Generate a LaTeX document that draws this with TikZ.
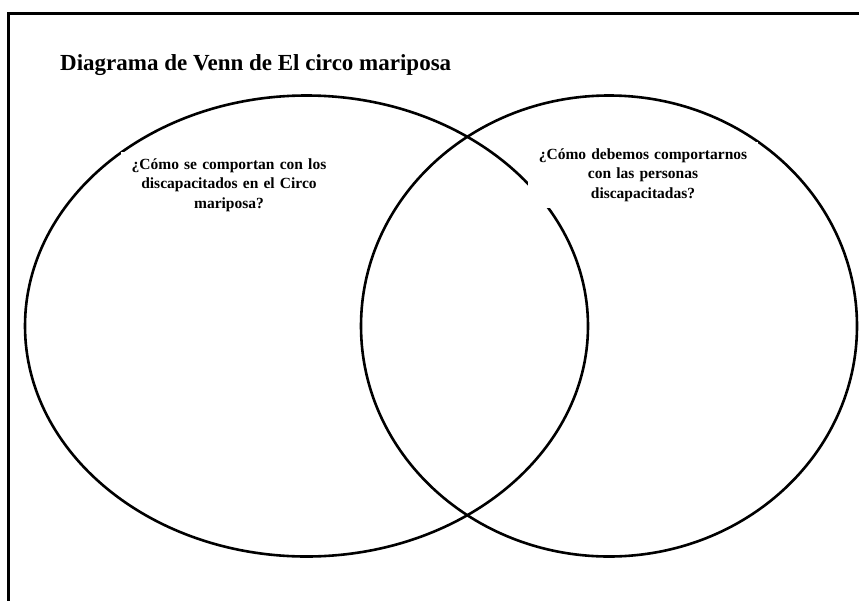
\documentclass[tikz,border=0pt]{standalone}
\usepackage{fontspec}
\setmainfont{Liberation Serif}
\usetikzlibrary{positioning}

\begin{document}
\begin{tikzpicture}[x=1pt,y=-1pt,
		venn/.style={line width=2.6pt},
		question/.style={fill=white,inner sep=0pt,minimum width=230pt,minimum height=66pt,text width=214pt,align=center,font=\bfseries\fontsize{15.5}{19.5}\selectfont}]
		\useasboundingbox (0,0) rectangle (859,600);
		\clip (0,0) rectangle (859,600);
		\draw [line width=3pt] (8,13) rectangle (900,640);
		\draw [venn] (306.5,326) ellipse [x radius=281.5pt, y radius=230.5pt];
		\draw [venn] (609,326) ellipse [x radius=248pt, y radius=230.5pt];
		\node [question, minimum width=216pt, text width=200pt] (circo) at (229,185) {¿Cómo se comportan con los\\discapacitados en el Circo\\mariposa?};
		\node [question] (debemos) at (643,175) {¿Cómo debemos comportarnos\\con las personas\\discapacitadas?};
		\node [anchor=base west, inner sep=0pt, font=\bfseries\fontsize{23}{27}\selectfont] (titulo) at (60,70) {Diagrama de Venn de El circo mariposa};
	\end{tikzpicture}
\end{document}
